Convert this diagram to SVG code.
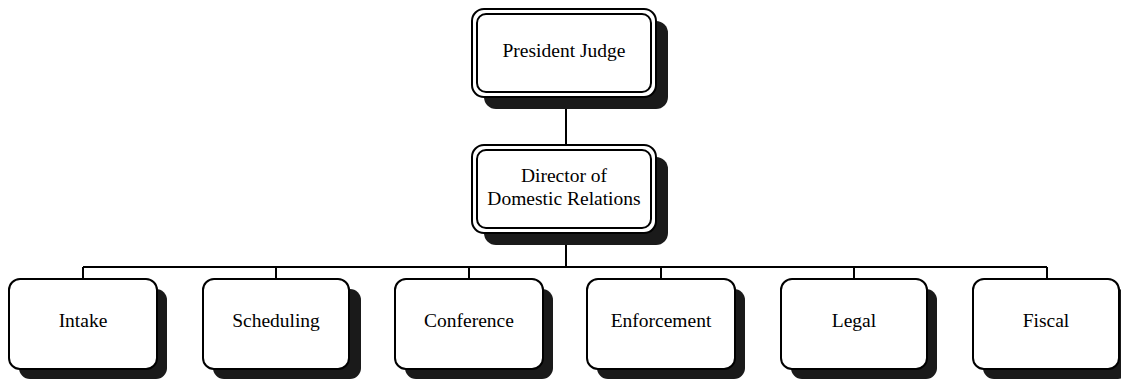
<svg xmlns="http://www.w3.org/2000/svg" width="1121" height="379" viewBox="0 0 1121 379">
  <style>
    .shadow { fill: #1a1a1a; stroke: none; }
    .outer { fill: #ffffff; stroke: #000000; stroke-width: 2; }
    .inner { fill: #ffffff; stroke: #000000; stroke-width: 2; }
    .box { fill: #ffffff; stroke: #000000; stroke-width: 2; }
    .label { font-family: "Liberation Serif", "Times New Roman", serif; font-size: 19.5px; fill: #000000; text-anchor: middle; }
    .wire { fill: none; stroke: #000000; stroke-width: 2; }
  </style>

  <!-- connectors -->
  <g id="connectors">
    <line class="wire" x1="566" y1="97" x2="566" y2="145"/>
    <line class="wire" x1="566" y1="233" x2="566" y2="267"/>
    <line class="wire" x1="83" y1="267" x2="1047" y2="267"/>
    <line class="wire" x1="83" y1="267" x2="83" y2="279"/>
    <line class="wire" x1="276" y1="267" x2="276" y2="279"/>
    <line class="wire" x1="469" y1="267" x2="469" y2="279"/>
    <line class="wire" x1="661" y1="267" x2="661" y2="279"/>
    <line class="wire" x1="854" y1="267" x2="854" y2="279"/>
    <line class="wire" x1="1047" y1="267" x2="1047" y2="279"/>
  </g>

  <!-- top level -->
  <g id="president-judge">
    <rect class="shadow" x="484" y="21" width="184" height="88" rx="12"/>
    <rect class="outer" x="472" y="9" width="184" height="88" rx="12"/>
    <rect class="inner" x="477" y="14" width="174" height="78" rx="9"/>
    <text class="label" x="564" y="57" font-size="20">President Judge</text>
  </g>

  <g id="director">
    <rect class="shadow" x="484" y="157" width="184" height="88" rx="12"/>
    <rect class="outer" x="472" y="145" width="184" height="88" rx="12"/>
    <rect class="inner" x="477" y="150" width="174" height="78" rx="9"/>
    <text class="label" x="564" y="182">Director of</text>
    <text class="label" x="564" y="205">Domestic Relations</text>
  </g>

  <!-- departments -->
  <g id="intake">
    <rect class="shadow" x="19" y="289" width="148" height="90" rx="11"/>
    <rect class="box" x="9" y="279" width="148" height="90" rx="11"/>
    <text class="label" x="83" y="327">Intake</text>
  </g>

  <g id="scheduling">
    <rect class="shadow" x="213" y="289" width="148" height="90" rx="11"/>
    <rect class="box" x="203" y="279" width="146" height="90" rx="11"/>
    <text class="label" x="276" y="327">Scheduling</text>
  </g>

  <g id="conference">
    <rect class="shadow" x="405" y="289" width="148" height="90" rx="11"/>
    <rect class="box" x="395" y="279" width="148" height="90" rx="11"/>
    <text class="label" x="469" y="327">Conference</text>
  </g>

  <g id="enforcement">
    <rect class="shadow" x="597" y="289" width="148" height="90" rx="11"/>
    <rect class="box" x="587" y="279" width="148" height="90" rx="11"/>
    <text class="label" x="661" y="327">Enforcement</text>
  </g>

  <g id="legal">
    <rect class="shadow" x="791" y="289" width="146" height="90" rx="11"/>
    <rect class="box" x="781" y="279" width="146" height="90" rx="11"/>
    <text class="label" x="854" y="327">Legal</text>
  </g>

  <g id="fiscal">
    <rect class="shadow" x="983" y="289" width="146" height="90" rx="11"/>
    <rect class="box" x="973" y="279" width="146" height="90" rx="11"/>
    <text class="label" x="1046" y="327">Fiscal</text>
  </g>
</svg>
